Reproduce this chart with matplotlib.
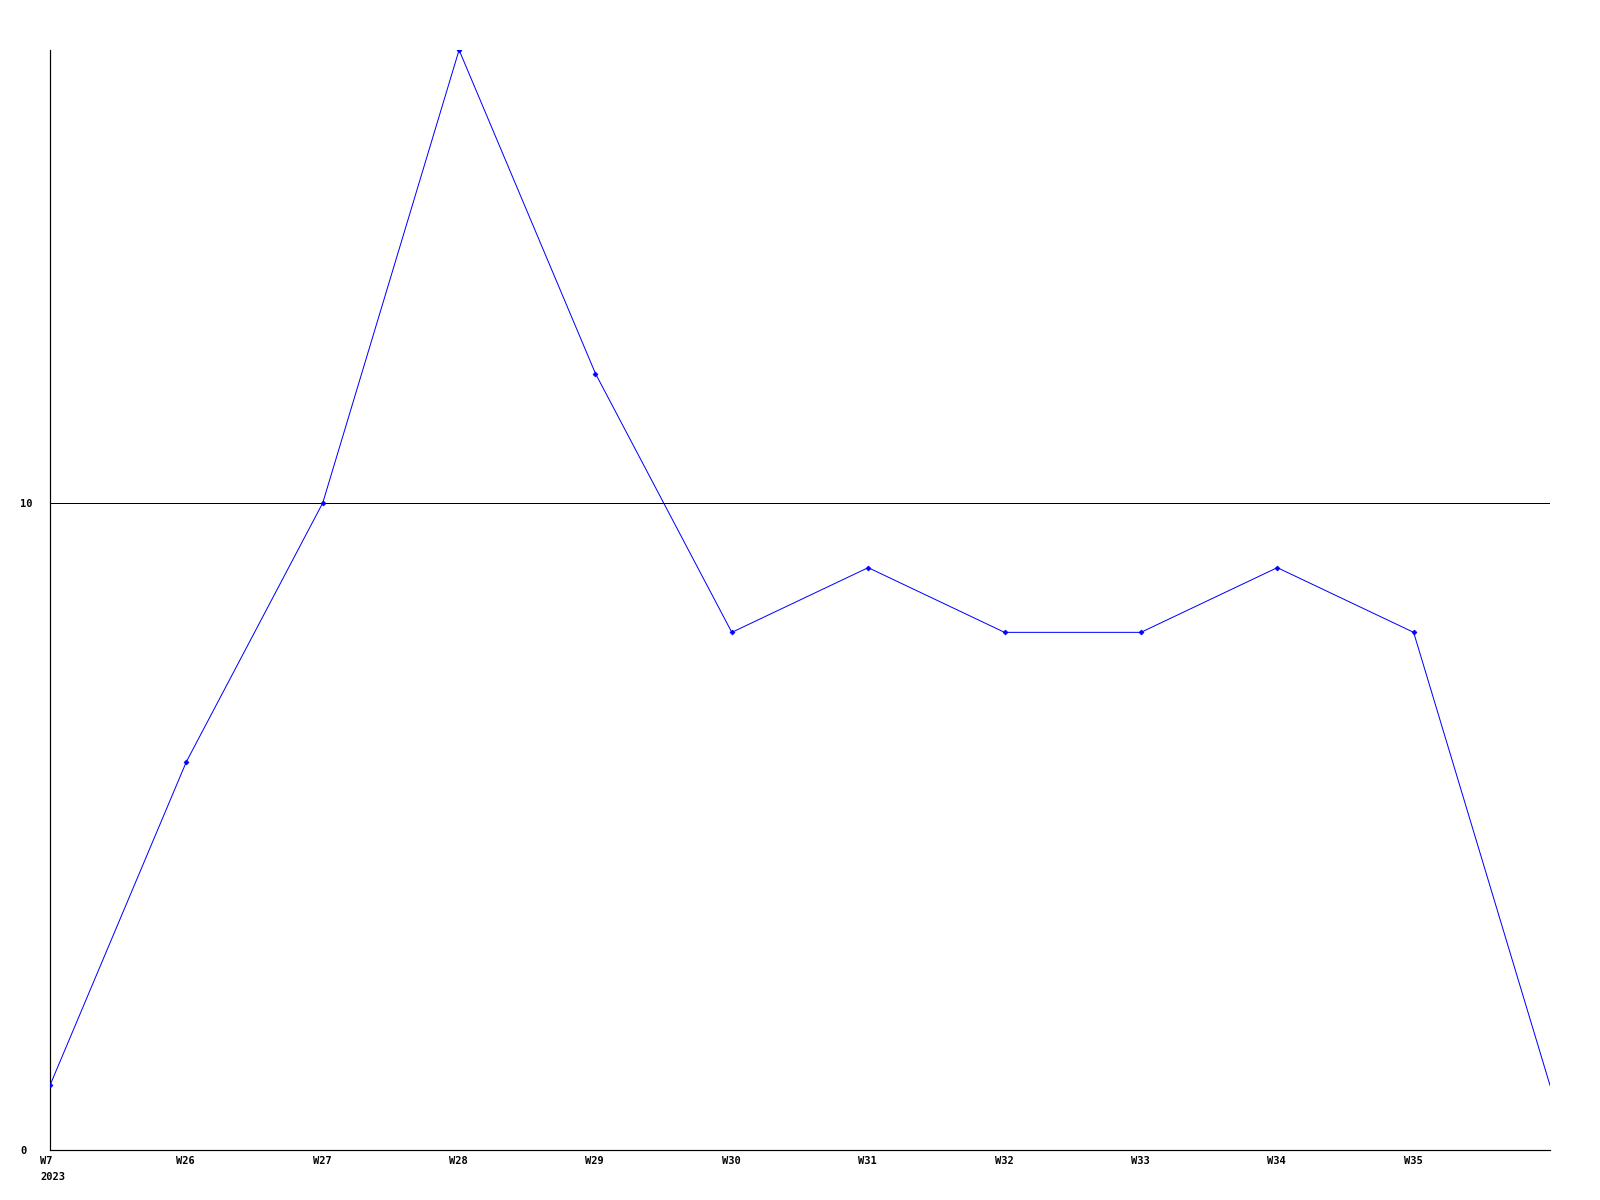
import matplotlib
matplotlib.use("Agg")
import matplotlib.pyplot as plt

weeks = ["W7\n2023", "W26", "W27", "W28", "W29", "W30", "W31", "W32", "W33", "W34", "W35", ""]
values = [1, 6, 10, 17, 12, 8, 9, 8, 8, 9, 8, 1]
y_ticks = [0, 10]

PT = 0.72  # points per pixel at 100 dpi

fig = plt.figure(figsize=(16, 12), dpi=100)
ax = fig.add_axes([50/1600, 1 - 1150/1200, 1500/1600, 1100/1200])

x = list(range(len(values)))
ax.plot(x, values, color="#0000ff", linewidth=1.0*PT, marker="D", markersize=2.5,
        markeredgewidth=0.5, markevery=list(range(len(values) - 1)), zorder=3)

ax.set_xlim(0, len(values) - 1)
ax.set_ylim(0, 17)

for sp in ["top", "right"]:
    ax.spines[sp].set_visible(False)
for sp in ["left", "bottom"]:
    ax.spines[sp].set_color("black")
    ax.spines[sp].set_linewidth(1.2*PT)

ax.axhline(10, color="black", linewidth=1.0*PT, zorder=2)

font = dict(family="DejaVu Sans Mono", weight="bold", size=7.5)

ax.set_xticks(x)
ax.set_xticklabels([""] * len(x))
ax.tick_params(axis="x", length=0)
for xi, lab in zip(x, weeks):
    if lab:
        ax.annotate(lab, xy=(xi, 0), xycoords=("data", "axes fraction"),
                    xytext=(-10*PT, -6*PT), textcoords="offset points",
                    ha="left", va="top", multialignment="left",
                    linespacing=1.8, annotation_clip=False, **font)

ax.set_yticks(y_ticks)
ax.set_yticklabels([str(v) for v in y_ticks], ha="left", **font)
ax.tick_params(axis="y", length=0, pad=30*PT)

fig.savefig("out.png", dpi=100, facecolor="white")
